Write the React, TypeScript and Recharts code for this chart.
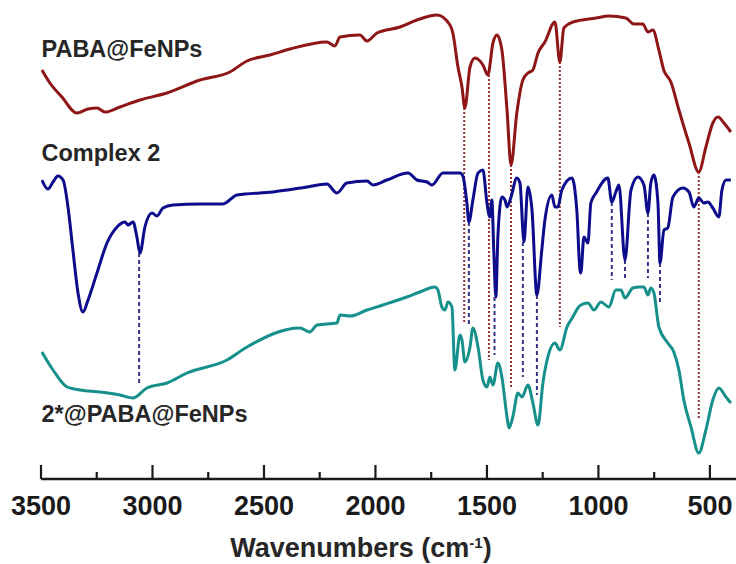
import React from "react";
import { LineChart, Line, XAxis, YAxis, ReferenceLine } from "recharts";

// Wavenumber (cm-1), relative transmittance (offset, arbitrary units)
const pabaSpectrum: [number, number][] = [
  [3496, 409], [3460, 396], [3406, 382], [3339, 366], [3289, 370], [3249, 371], [3213, 367],
  [3146, 372], [3056, 379], [2935, 386], [2787, 399], [2653, 407], [2576, 418], [2473, 424],
  [2383, 430], [2218, 437], [2182, 433], [2159, 442], [2070, 444], [2038, 438], [1993, 446],
  [1890, 452], [1814, 459], [1724, 464], [1666, 454], [1653, 446], [1630, 412], [1612, 392],
  [1599, 371], [1576, 412], [1554, 421], [1518, 414], [1496, 404], [1473, 436], [1455, 444],
  [1433, 429], [1410, 369], [1392, 314], [1366, 366], [1339, 399], [1316, 406], [1294, 409],
  [1271, 426], [1240, 437], [1195, 457], [1173, 417], [1155, 451], [1115, 457], [1011, 461],
  [953, 463], [877, 461], [841, 455], [801, 455], [778, 447], [756, 449], [729, 429],
  [707, 409], [675, 397], [639, 369], [594, 336], [550, 307], [518, 332], [487, 356],
  [464, 362], [437, 356], [406, 347],
];

const complexSpectrum: [number, number][] = [
  [3496, 299], [3469, 290], [3446, 297], [3424, 303], [3401, 299], [3379, 272], [3357, 229],
  [3334, 186], [3312, 167], [3289, 179], [3249, 206], [3204, 236], [3159, 252], [3123, 257],
  [3110, 254], [3087, 257], [3070, 242], [3056, 226], [3034, 252], [3002, 266], [2980, 263],
  [2953, 271], [2908, 274], [2787, 275], [2684, 275], [2621, 284], [2460, 287], [2307, 292],
  [2218, 295], [2173, 286], [2128, 296], [2038, 298], [2011, 294], [1949, 299], [1854, 306],
  [1814, 299], [1769, 297], [1747, 294], [1697, 306], [1653, 306], [1621, 306], [1608, 303],
  [1590, 276], [1581, 257], [1563, 279], [1540, 306], [1518, 309], [1500, 276], [1487, 262],
  [1478, 279], [1469, 226], [1460, 182], [1451, 242], [1433, 282], [1419, 279], [1410, 272],
  [1392, 282], [1366, 301], [1352, 296], [1334, 237], [1316, 292], [1298, 269], [1276, 184],
  [1254, 229], [1240, 259], [1209, 284], [1195, 272], [1182, 272], [1164, 289], [1119, 301],
  [1097, 269], [1083, 209], [1079, 206], [1065, 242], [1047, 236], [1034, 276], [1011, 286],
  [958, 301], [940, 277], [922, 287], [908, 294], [881, 219], [854, 289], [823, 302],
  [796, 294], [778, 266], [765, 296], [751, 304], [733, 276], [724, 216], [706, 249],
  [689, 251], [666, 282], [621, 291], [594, 287], [572, 272], [550, 281], [527, 276],
  [509, 277], [487, 271], [460, 262], [446, 289], [428, 299], [406, 299],
];

const hybridSpectrum: [number, number][] = [
  [3496, 127], [3446, 109], [3383, 92], [3325, 89], [3235, 87], [3146, 84], [3087, 81],
  [3025, 91], [2935, 96], [2845, 106], [2666, 119], [2576, 132], [2339, 151], [2294, 147],
  [2262, 154], [2173, 156], [2159, 164], [2114, 163], [2038, 169], [1967, 174], [1859, 182],
  [1801, 187], [1733, 192], [1720, 189], [1702, 172], [1688, 169], [1675, 177], [1657, 172],
  [1644, 109], [1621, 144], [1612, 139], [1599, 117], [1576, 132], [1563, 151], [1540, 132],
  [1518, 99], [1500, 92], [1487, 102], [1473, 94], [1451, 116], [1433, 102], [1410, 62],
  [1401, 51], [1384, 62], [1361, 86], [1343, 82], [1316, 94], [1294, 76], [1271, 54],
  [1249, 96], [1227, 122], [1195, 136], [1173, 129], [1141, 152], [1115, 162], [1092, 171],
  [1079, 174], [1047, 176], [1020, 169], [989, 177], [953, 172], [922, 189], [899, 189],
  [881, 181], [846, 191], [819, 192], [796, 192], [778, 184], [765, 191], [751, 186],
  [729, 152], [689, 136], [662, 127], [639, 109], [617, 79], [585, 52], [550, 26],
  [518, 49], [487, 79], [460, 91], [428, 82], [406, 76],
];

// Marker lines: [wavenumber, upper value, lower value]
const pabaBands: [number, number, number][] = [
  [1602, 371, 157], [1491, 404, 119], [1392, 314, 91], [1173, 417, 152], [550, 307, 61],
];
const complexBands: [number, number, number][] = [
  [3060, 226, 96], [1581, 257, 154], [1466, 182, 124], [1339, 237, 102], [1276, 184, 84],
  [940, 277, 199], [881, 219, 201], [778, 266, 201], [724, 216, 174],
];

const majorTicks = [3500, 3000, 2500, 2000, 1500, 1000, 500];
const minorTicks = [3250, 2750, 2250, 1750, 1250, 750];
const allTicks = [...majorTicks, ...minorTicks].sort((a, b) => b - a);

const toRows = (s: [number, number][]) => s.map(([wn, t]) => ({ wn, t }));

const FONT = "'Liberation Sans', Arial, sans-serif";
const RED = "#8e1616";
const BLUE = "#0c0c8c";
const TEAL = "#16908a";

const Tick = (props: any) => {
  const { x, y, payload } = props;
  const isMajor = majorTicks.includes(payload.value);
  return (
    <g>
      <line x1={x} x2={x} y1={y} y2={y - (isMajor ? 14 : 7)} stroke="#1a1a1a" strokeWidth={2.2} />
      {isMajor && (
        <text x={x} y={y + 36} textAnchor="middle" fontFamily={FONT} fontWeight="bold" fontSize={27} fill="#1a1a1a">
          {payload.value}
        </text>
      )}
    </g>
  );
};

const labelStyle: React.CSSProperties = {
  position: "absolute",
  left: 41.5,
  fontFamily: FONT,
  fontWeight: "bold",
  fontSize: 23.5,
  lineHeight: "23.5px",
  color: "#262626",
  whiteSpace: "nowrap",
};

export default function App() {
  return (
    <div style={{ position: "absolute", left: 0, top: 0, width: 736, height: 564, background: "#fff" }}>
      <LineChart width={736} height={564} margin={{ top: 0, right: 0, bottom: 0, left: 41 }}>
        <XAxis
          type="number"
          dataKey="wn"
          domain={[383, 3500]}
          reversed
          ticks={allTicks}
          interval={0}
          tick={<Tick />}
          tickLine={false}
          tickSize={0}
          tickMargin={0}
          height={85}
          axisLine={{ stroke: "#1a1a1a", strokeWidth: 2.5 }}
          allowDataOverflow
        />
        <YAxis type="number" domain={[0, 479]} hide />
        {pabaBands.map(([wn, a, b]) => (
          <ReferenceLine
            key={"p" + wn}
            segment={[{ x: wn, y: a }, { x: wn, y: b }]}
            stroke="#973030"
            strokeWidth={2}
            strokeDasharray="2 2"
            ifOverflow="visible"
          />
        ))}
        {complexBands.map(([wn, a, b]) => (
          <ReferenceLine
            key={"c" + wn}
            segment={[{ x: wn, y: a }, { x: wn, y: b }]}
            stroke="#34348a"
            strokeWidth={2}
            strokeDasharray="4 3"
            ifOverflow="visible"
          />
        ))}
        <Line data={toRows(pabaSpectrum)} dataKey="t" type="monotone" stroke={RED} strokeWidth={3} dot={false} isAnimationActive={false} />
        <Line data={toRows(complexSpectrum)} dataKey="t" type="monotone" stroke={BLUE} strokeWidth={3} dot={false} isAnimationActive={false} />
        <Line data={toRows(hybridSpectrum)} dataKey="t" type="monotone" stroke={TEAL} strokeWidth={3} dot={false} isAnimationActive={false} />
      </LineChart>
      <div style={{ ...labelStyle, top: 37.5 }}>PABA@FeNPs</div>
      <div style={{ ...labelStyle, top: 142.4 }}>Complex 2</div>
      <div style={{ ...labelStyle, top: 402.8 }}>2*@PABA@FeNPs</div>
      <div
        style={{
          position: "absolute",
          left: 0,
          width: 722,
          top: 535,
          textAlign: "center",
          fontFamily: FONT,
          fontWeight: "bold",
          fontSize: 27,
          lineHeight: "27px",
          color: "#262626",
          whiteSpace: "nowrap",
        }}
      >
        Wavenumbers (cm<sup style={{ fontSize: 15, verticalAlign: "top", lineHeight: "15px" }}>-1</sup>)
      </div>
    </div>
  );
}
